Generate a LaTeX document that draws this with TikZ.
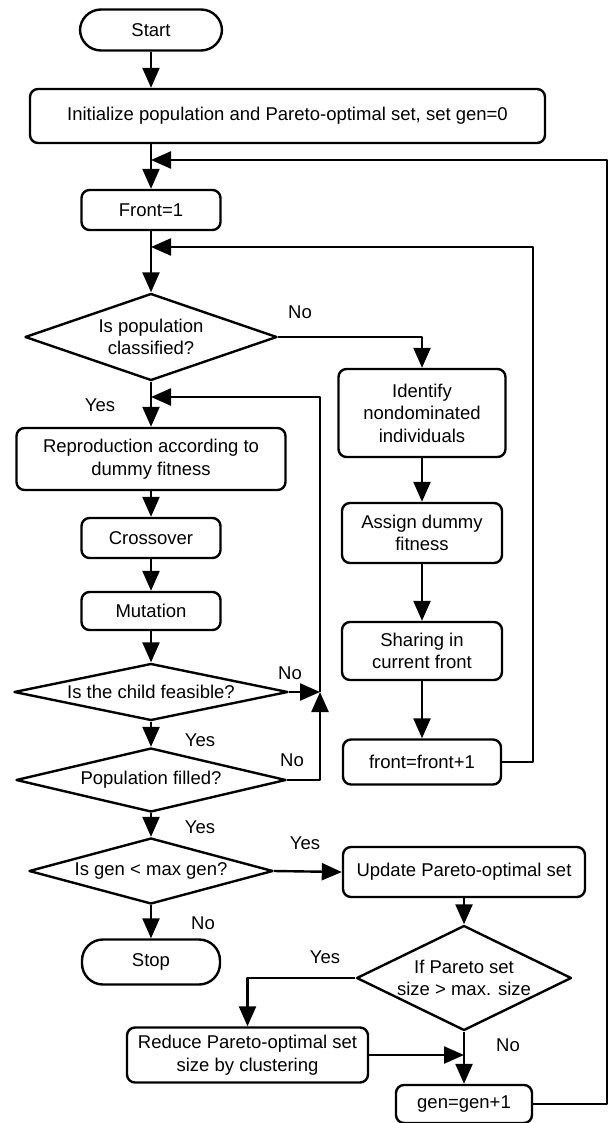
\documentclass[tikz,border=0pt]{standalone}
\usepackage{fontspec}
\setmainfont{Liberation Sans}
\usetikzlibrary{shapes.geometric,arrows.meta}
\begin{document}
\begin{tikzpicture}[x=1pt,y=-1pt,line width=2.4pt,line join=round,>={Triangle[length=20pt,width=17pt]},
	font=\fontsize{18.5}{22.5}\selectfont,
	box/.style={draw,rounded corners=8pt,align=center,inner sep=0pt},
	pill/.style={draw,rounded corners=21pt,inner sep=0pt},
	dia/.style={draw,diamond,inner sep=0pt,align=center},
	lbl/.style={inner sep=0pt}]
	\useasboundingbox (0,0) rectangle (610,1123);
	\def\mx{151} \def\rx{422}
	% main column
	\node[pill,minimum width=142pt,minimum height=41pt] (start) at (\mx,30) {Start};
	\node[box,minimum width=515pt,minimum height=54pt] (init) at (287.5,116) {Initialize population and Pareto-optimal set, set gen=0};
	\node[box,minimum width=139pt,minimum height=40pt] (front) at (\mx,210) {Front=1};
	\node[dia,aspect=2.9,minimum width=252pt,minimum height=87pt] (classd) at (\mx,337) {Is population\\classified?};
	\node[box,minimum width=269pt,minimum height=62pt] (repro) at (\mx,459) {Reproduction according to\\dummy fitness};
	\node[box,minimum width=139pt,minimum height=40pt] (cross) at (\mx,538) {Crossover};
	\node[box,minimum width=139pt,minimum height=38pt] (mut) at (\mx,611) {Mutation};
	\node[dia,aspect=4.8,minimum width=274pt,minimum height=57pt] (feasd) at (\mx,692) {Is the child feasible?};
	\node[dia,aspect=4.2,minimum width=270pt,minimum height=64pt] (filld) at (\mx,780) {Population filled?};
	\node[dia,aspect=3.7,minimum width=244pt,minimum height=66pt] (gend) at (\mx,871) {Is gen < max gen?};
	\node[pill,minimum width=138pt,minimum height=45pt] (stop) at (\mx,962) {Stop};
	% right column
	\node[box,minimum width=167pt,minimum height=88pt] (ident) at (\rx,413) {Identify\\nondominated\\individuals};
	\node[box,minimum width=160pt,minimum height=60pt] (assign) at (\rx,533) {Assign dummy\\fitness};
	\node[box,minimum width=160pt,minimum height=58pt] (share) at (\rx,651) {Sharing in\\current front};
	\node[box,minimum width=158pt,minimum height=45pt] (finc) at (\rx,762) {front=front+1};
	\node[box,minimum width=242pt,minimum height=50pt] (update) at (464,872) {Update Pareto-optimal set};
	\node[dia,aspect=2.05,minimum width=215pt,minimum height=105pt] (sized) at (464,978) {If Pareto set\\size > max. size};
	\node[box,minimum width=241pt,minimum height=55pt] (reduce) at (247.5,1055) {Reduce Pareto-optimal set\\size by clustering};
	\node[box,minimum width=136pt,minimum height=38pt] (gen) at (464,1104) {gen=gen+1};
	% loop corners
	\coordinate (oloop) at (607,160);
	\coordinate (floop) at (533,247);
	\coordinate (cloop) at (320,397);
	% labels
	\foreach \p/\t/\n in {{(300,312)}/No/l1,{(100,405)}/Yes/l2,{(290,673)}/No/l3,{(200,740)}/Yes/l4,
		{(292,760)}/No/l5,{(200,827)}/Yes/l6,{(305,843)}/Yes/l7,{(203,923)}/No/l8,
		{(325,957)}/Yes/l9,{(508,1045)}/No/l10}
	\node[lbl] (\n) at \p {\t};
	% connectors
	\draw[->] (start) -- (start |- init.north);
	\draw[->] (init.south -| front) -- (front);
	\draw[->] (front) -- (classd);
	\draw[->] (classd) -- (repro);
	\draw[->] (repro) -- (cross);
	\draw[->] (cross) -- (mut);
	\draw[->] (mut) -- (feasd);
	\draw[->] (feasd) -- (filld);
	\draw[->] (filld) -- (gend);
	\draw[->] (gend) -- (stop);
	\draw[->] (classd.east) -| (ident);
	\draw[->] (ident) -- (assign);
	\draw[->] (assign) -- (share);
	\draw[->] (share) -- (finc);
	\draw[->] (finc.east) -| (floop) -- (floop -| front);
	\draw[->] (feasd.east) -- (feasd.east -| cloop);
	\draw[->] (filld.east) -| (feasd.east -| cloop);
	\draw[->] (feasd.east -| cloop) -- (cloop) -- (cloop -| repro);
	\draw[->] (gend.east) -- (update.west);
	\draw[->] (update) -- (sized);
	\draw[->] (sized.west) -| (reduce);
	\draw[->] (reduce.east) -- (reduce.east -| sized);
	\draw[->] (sized) -- (gen);
	\draw[->] (gen.east) -| (oloop) -- (oloop -| front);
\end{tikzpicture}
\end{document}
